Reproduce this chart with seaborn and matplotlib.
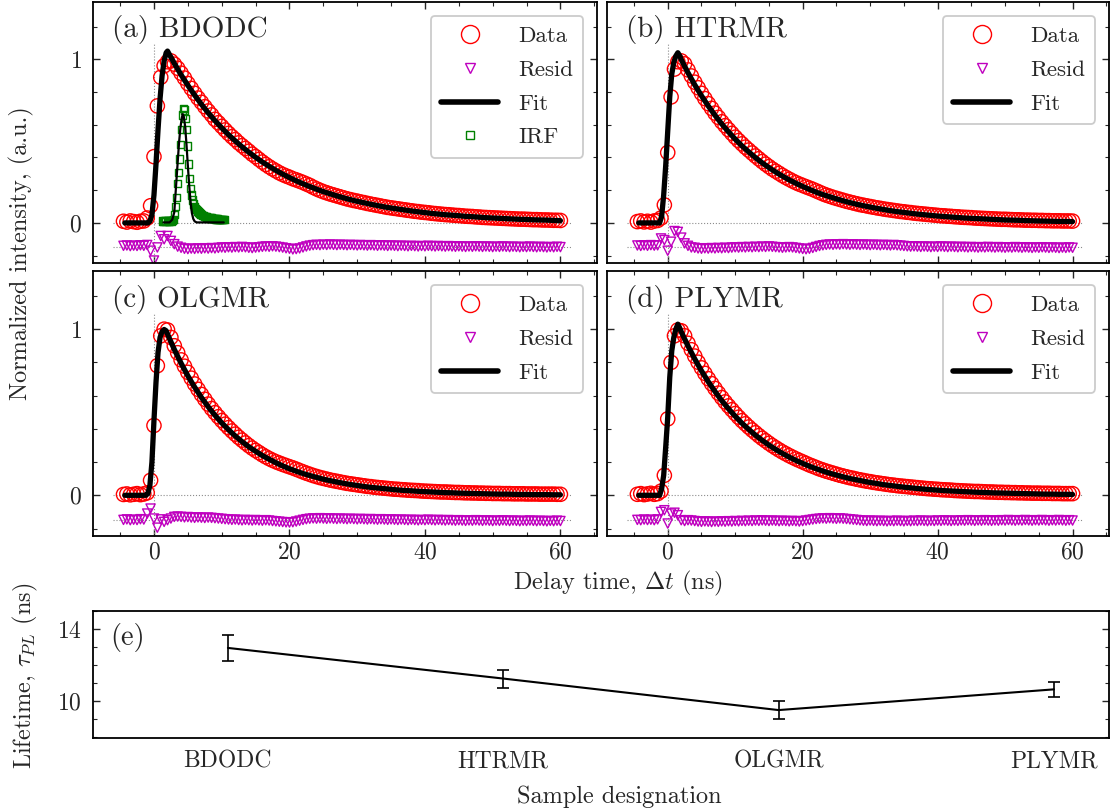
import numpy as np
import matplotlib
matplotlib.use("Agg")
import matplotlib.pyplot as plt
import seaborn as sns
from matplotlib.lines import Line2D
from matplotlib.ticker import MultipleLocator, FixedLocator

# ---------------- data ----------------
# sampling grid of the decay traces (ns)
t_data = np.arange(-4.5, 60.01, 0.5)

data_a = [0.010, 0.005, 0.012, 0.008, 0.004, 0.010, 0.012, 0.030, 0.105, 0.405, 0.715, 0.890, 0.960, 0.985, 0.990,
          0.970, 0.945, 0.915, 0.885, 0.852, 0.822, 0.792, 0.763, 0.737, 0.710, 0.684, 0.660, 0.633, 0.612, 0.590,
          0.568, 0.547, 0.527, 0.509, 0.489, 0.472, 0.455, 0.438, 0.420, 0.405, 0.388, 0.372, 0.357, 0.343, 0.330,
          0.318, 0.306, 0.296, 0.287, 0.279, 0.270, 0.263, 0.255, 0.247, 0.238, 0.229, 0.218, 0.208, 0.199, 0.191,
          0.184, 0.177, 0.171, 0.165, 0.159, 0.153, 0.147, 0.142, 0.137, 0.133, 0.128, 0.124, 0.119, 0.115, 0.111,
          0.107, 0.103, 0.099, 0.095, 0.092, 0.089, 0.086, 0.083, 0.080, 0.077, 0.074, 0.071, 0.069, 0.066, 0.064,
          0.062, 0.059, 0.057, 0.055, 0.053, 0.051, 0.050, 0.048, 0.046, 0.045, 0.043, 0.041, 0.040, 0.039, 0.037,
          0.036, 0.034, 0.033, 0.032, 0.031, 0.030, 0.029, 0.028, 0.027, 0.026, 0.025, 0.024, 0.023, 0.023, 0.022,
          0.021, 0.020, 0.020, 0.019, 0.018, 0.018, 0.017, 0.016, 0.016, 0.015]
data_b = [0.008, 0.012, 0.006, 0.010, 0.005, 0.012, 0.015, 0.030, 0.110, 0.430, 0.770, 0.940, 0.985, 0.990,
          0.972, 0.935, 0.898, 0.860, 0.826, 0.792, 0.760, 0.729, 0.700, 0.671, 0.645, 0.618, 0.594, 0.570, 0.547,
          0.524, 0.503, 0.483, 0.463, 0.445, 0.427, 0.409, 0.392, 0.375, 0.359, 0.344, 0.329, 0.316, 0.303, 0.290,
          0.278, 0.267, 0.256, 0.246, 0.237, 0.229, 0.221, 0.213, 0.205, 0.196, 0.187, 0.178, 0.170, 0.163, 0.156,
          0.150, 0.144, 0.138, 0.132, 0.127, 0.122, 0.117, 0.112, 0.108, 0.104, 0.100, 0.096, 0.092, 0.089, 0.085,
          0.082, 0.079, 0.076, 0.073, 0.070, 0.068, 0.065, 0.063, 0.060, 0.058, 0.056, 0.054, 0.052, 0.050, 0.048,
          0.046, 0.044, 0.043, 0.041, 0.040, 0.038, 0.037, 0.035, 0.034, 0.033, 0.032, 0.030, 0.029, 0.028, 0.027,
          0.026, 0.025, 0.024, 0.023, 0.022, 0.022, 0.021, 0.020, 0.019, 0.019, 0.018, 0.017, 0.017, 0.016, 0.016,
          0.015, 0.015, 0.014, 0.014, 0.013, 0.013, 0.013, 0.012, 0.012, 0.012, 0.011]
data_c = [0.005, 0.008, 0.003, 0.006, 0.010, 0.004, 0.008, 0.015, 0.090, 0.420, 0.780, 0.960, 1.000, 0.995,
          0.950, 0.900, 0.858, 0.815, 0.777, 0.740, 0.705, 0.670, 0.638, 0.607, 0.578, 0.549, 0.522, 0.497, 0.473,
          0.450, 0.428, 0.407, 0.387, 0.368, 0.349, 0.332, 0.315, 0.299, 0.284, 0.270, 0.257, 0.244, 0.232, 0.221,
          0.211, 0.202, 0.194, 0.186, 0.179, 0.172, 0.165, 0.157, 0.149, 0.141, 0.133, 0.126, 0.119, 0.113, 0.107,
          0.102, 0.097, 0.092, 0.088, 0.084, 0.080, 0.076, 0.072, 0.069, 0.066, 0.063, 0.060, 0.057, 0.054, 0.052,
          0.049, 0.047, 0.045, 0.043, 0.041, 0.039, 0.037, 0.036, 0.034, 0.033, 0.031, 0.030, 0.029, 0.028, 0.026,
          0.025, 0.024, 0.023, 0.022, 0.021, 0.020, 0.020, 0.019, 0.018, 0.017, 0.017, 0.016, 0.015, 0.015, 0.014,
          0.014, 0.013, 0.013, 0.012, 0.012, 0.011, 0.011, 0.011, 0.010, 0.010, 0.010, 0.009, 0.009, 0.009, 0.009,
          0.008, 0.008, 0.008, 0.008, 0.007, 0.007, 0.007, 0.007, 0.007, 0.006, 0.006]
data_d = [0.006, 0.010, 0.004, 0.008, 0.012, 0.006, 0.010, 0.025, 0.120, 0.460, 0.800, 0.960, 0.995, 0.990,
          0.960, 0.915, 0.876, 0.838, 0.801, 0.767, 0.734, 0.702, 0.672, 0.643, 0.615, 0.588, 0.562, 0.538, 0.515,
          0.492, 0.470, 0.449, 0.430, 0.411, 0.393, 0.376, 0.359, 0.343, 0.328, 0.313, 0.299, 0.286, 0.273, 0.261,
          0.250, 0.239, 0.229, 0.219, 0.210, 0.201, 0.192, 0.183, 0.175, 0.167, 0.159, 0.152, 0.145, 0.139, 0.133,
          0.127, 0.121, 0.116, 0.111, 0.106, 0.102, 0.097, 0.093, 0.089, 0.085, 0.082, 0.078, 0.075, 0.072, 0.069,
          0.066, 0.063, 0.061, 0.058, 0.056, 0.054, 0.052, 0.050, 0.048, 0.046, 0.044, 0.042, 0.040, 0.039, 0.037,
          0.036, 0.034, 0.033, 0.032, 0.031, 0.029, 0.028, 0.027, 0.026, 0.025, 0.024, 0.023, 0.023, 0.022, 0.021,
          0.020, 0.020, 0.019, 0.018, 0.018, 0.017, 0.017, 0.016, 0.016, 0.015, 0.015, 0.014, 0.014, 0.013, 0.013,
          0.013, 0.012, 0.012, 0.012, 0.011, 0.011, 0.011, 0.010, 0.010, 0.010, 0.010]

resid_a = [-0.140, -0.138, -0.142, -0.139, -0.141, -0.137, -0.140, -0.135, -0.170, -0.230, -0.150, -0.080, -0.100,
           -0.080, -0.110, -0.130, -0.145,
           -0.152, -0.158, -0.160, -0.157, -0.159, -0.156, -0.158, -0.155, -0.157, -0.154, -0.156, -0.153, -0.150,
           -0.152, -0.149, -0.151, -0.148, -0.150, -0.147, -0.149, -0.152, -0.154, -0.151, -0.149, -0.146, -0.144,
           -0.146, -0.143, -0.145, -0.148, -0.151, -0.155, -0.158, -0.162, -0.160, -0.156, -0.150, -0.144, -0.139,
           -0.136, -0.134, -0.136, -0.133, -0.135, -0.132, -0.134, -0.136, -0.133, -0.135, -0.137, -0.134, -0.136,
           -0.138, -0.135, -0.137, -0.139, -0.136, -0.138, -0.140, -0.137, -0.139, -0.141, -0.138, -0.140, -0.142,
           -0.139, -0.141, -0.143, -0.140, -0.142, -0.144, -0.141, -0.143, -0.140, -0.142, -0.144, -0.141, -0.143,
           -0.145, -0.142, -0.144, -0.146, -0.143, -0.145, -0.147, -0.144, -0.146, -0.143, -0.145, -0.147, -0.144,
           -0.146, -0.148, -0.145, -0.147, -0.144, -0.146, -0.148, -0.145, -0.147, -0.149, -0.146, -0.148, -0.145,
           -0.147, -0.149, -0.146, -0.148, -0.150, -0.147, -0.149, -0.146, -0.148]
resid_b = [-0.138, -0.141, -0.137, -0.140, -0.136, -0.139, -0.137, -0.095, -0.105, -0.170, -0.115, -0.050, -0.055,
           -0.090, -0.125, -0.140, -0.150,
           -0.152, -0.156, -0.158, -0.155, -0.157, -0.154, -0.156, -0.153, -0.155, -0.152, -0.154, -0.151, -0.149,
           -0.151, -0.148, -0.150, -0.147, -0.149, -0.146, -0.148, -0.145, -0.147, -0.144, -0.146, -0.148, -0.150,
           -0.152, -0.150, -0.148, -0.150, -0.153, -0.156, -0.159, -0.161, -0.158, -0.153, -0.147, -0.141, -0.137,
           -0.134, -0.132, -0.134, -0.131, -0.133, -0.130, -0.132, -0.134, -0.131, -0.133, -0.135, -0.132, -0.134,
           -0.136, -0.133, -0.135, -0.137, -0.134, -0.136, -0.138, -0.135, -0.137, -0.139, -0.141, -0.143, -0.145,
           -0.143, -0.145, -0.147, -0.144, -0.146, -0.148, -0.145, -0.147, -0.144, -0.146, -0.148, -0.145, -0.147,
           -0.149, -0.146, -0.148, -0.150, -0.147, -0.149, -0.151, -0.148, -0.150, -0.147, -0.149, -0.151, -0.148,
           -0.150, -0.152, -0.149, -0.151, -0.148, -0.150, -0.152, -0.149, -0.151, -0.153, -0.150, -0.152, -0.149,
           -0.151, -0.153, -0.150, -0.152, -0.154, -0.151, -0.153, -0.150, -0.152]
resid_c = [-0.148, -0.145, -0.150, -0.147, -0.149, -0.144, -0.146, -0.110, -0.080, -0.140, -0.195, -0.145, -0.160,
           -0.150, -0.140, -0.130, -0.128,
           -0.130, -0.133, -0.131, -0.134, -0.136, -0.133, -0.135, -0.137, -0.134, -0.136, -0.138, -0.140, -0.142,
           -0.144, -0.146, -0.148, -0.146, -0.149, -0.151, -0.148, -0.150, -0.152, -0.149, -0.151, -0.153, -0.150,
           -0.152, -0.155, -0.157, -0.159, -0.161, -0.163, -0.164, -0.162, -0.158, -0.153, -0.148, -0.144, -0.141,
           -0.139, -0.141, -0.138, -0.140, -0.142, -0.139, -0.141, -0.143, -0.140, -0.142, -0.144, -0.141, -0.143,
           -0.145, -0.142, -0.144, -0.146, -0.143, -0.145, -0.147, -0.144, -0.146, -0.148, -0.145, -0.147, -0.149,
           -0.146, -0.148, -0.150, -0.147, -0.149, -0.151, -0.148, -0.150, -0.147, -0.149, -0.151, -0.148, -0.150,
           -0.152, -0.149, -0.151, -0.153, -0.150, -0.152, -0.154, -0.151, -0.153, -0.150, -0.152, -0.154, -0.151,
           -0.153, -0.155, -0.152, -0.154, -0.151, -0.153, -0.155, -0.152, -0.154, -0.156, -0.153, -0.155, -0.152,
           -0.154, -0.156, -0.153, -0.155, -0.157, -0.154, -0.156, -0.153, -0.155]
resid_d = [-0.148, -0.150, -0.146, -0.149, -0.147, -0.150, -0.145, -0.100, -0.090, -0.170, -0.110, -0.105, -0.120,
           -0.150, -0.155, -0.150, -0.152,
           -0.155, -0.158, -0.160, -0.157, -0.159, -0.161, -0.158, -0.160, -0.157, -0.159, -0.156, -0.158, -0.155,
           -0.157, -0.154, -0.156, -0.153, -0.155, -0.152, -0.154, -0.151, -0.153, -0.155, -0.152, -0.154, -0.156,
           -0.153, -0.155, -0.157, -0.154, -0.156, -0.158, -0.155, -0.152, -0.149, -0.146, -0.143, -0.141, -0.139,
           -0.141, -0.138, -0.140, -0.142, -0.139, -0.141, -0.143, -0.145, -0.147, -0.149, -0.151, -0.153, -0.155,
           -0.152, -0.154, -0.156, -0.153, -0.155, -0.157, -0.154, -0.156, -0.153, -0.155, -0.157, -0.154, -0.156,
           -0.153, -0.155, -0.152, -0.154, -0.156, -0.153, -0.155, -0.152, -0.154, -0.151, -0.153, -0.155, -0.152,
           -0.154, -0.151, -0.153, -0.150, -0.152, -0.154, -0.151, -0.153, -0.150, -0.152, -0.154, -0.151, -0.153,
           -0.150, -0.152, -0.149, -0.151, -0.153, -0.150, -0.152, -0.149, -0.151, -0.153, -0.150, -0.152, -0.149,
           -0.151, -0.153, -0.150, -0.152, -0.149, -0.151, -0.153, -0.150, -0.152]

# fit curves
t_fit = [-4.3, -1.2, -0.9, -0.6, -0.3, 0.0, 0.3, 0.6, 0.9, 1.2, 1.5, 1.8, 2.0,
         3, 4, 5, 6, 7, 8, 9, 10, 11, 12, 13, 14, 15, 16, 17, 18, 19, 20, 21, 22, 23, 24, 25, 26, 27, 28, 29, 30,
         31, 32, 33, 34, 35, 36, 37, 38, 39, 40, 41, 42, 43, 44, 45, 46, 47, 48, 49, 50, 51, 52, 53, 54, 55, 56,
         57, 58, 59, 60]
fit_a = [0.0, 0.0, 0.0, 0.01, 0.05, 0.17, 0.36, 0.57, 0.76, 0.90, 0.99, 1.04, 1.05,
         0.975, 0.905, 0.841, 0.781, 0.725, 0.673, 0.625, 0.581, 0.539, 0.501, 0.465, 0.432, 0.401, 0.372, 0.346,
         0.321, 0.298, 0.277, 0.257, 0.239, 0.222, 0.206, 0.191, 0.178, 0.165, 0.153, 0.142, 0.132, 0.123, 0.114,
         0.106, 0.098, 0.091, 0.085, 0.079, 0.073, 0.068, 0.063, 0.058, 0.054, 0.050, 0.047, 0.044, 0.040, 0.038,
         0.035, 0.032, 0.030, 0.028, 0.026, 0.024, 0.022, 0.021, 0.019, 0.018, 0.017, 0.015, 0.014]
fit_b = [0.0, 0.0, 0.04, 0.17, 0.35, 0.56, 0.77, 0.91, 0.98, 1.02, 1.04, 1.02, 0.998,
         0.918, 0.844, 0.777, 0.715, 0.658, 0.605, 0.557, 0.512, 0.471, 0.434, 0.399, 0.367, 0.338, 0.311, 0.286,
         0.263, 0.242, 0.223, 0.205, 0.188, 0.173, 0.160, 0.147, 0.135, 0.124, 0.114, 0.105, 0.097, 0.089, 0.082,
         0.075, 0.069, 0.064, 0.059, 0.054, 0.050, 0.046, 0.042, 0.039, 0.036, 0.033, 0.030, 0.028, 0.026, 0.024,
         0.022, 0.020, 0.018, 0.017, 0.016, 0.014, 0.013, 0.012, 0.011, 0.010, 0.009, 0.009, 0.008]
fit_c = [0.0, 0.0, 0.01, 0.06, 0.20, 0.45, 0.68, 0.86, 0.95, 0.985, 0.998, 0.99, 0.970,
         0.878, 0.795, 0.719, 0.651, 0.589, 0.533, 0.482, 0.436, 0.395, 0.357, 0.323, 0.292, 0.265, 0.239, 0.217,
         0.196, 0.177, 0.160, 0.145, 0.131, 0.119, 0.108, 0.097, 0.088, 0.080, 0.072, 0.065, 0.059, 0.053, 0.048,
         0.044, 0.040, 0.036, 0.032, 0.029, 0.027, 0.024, 0.022, 0.020, 0.018, 0.016, 0.015, 0.013, 0.012, 0.011,
         0.010, 0.009, 0.008, 0.007, 0.007, 0.006, 0.005, 0.005, 0.004, 0.004, 0.004, 0.003, 0.003]
fit_d = [0.0, 0.0, 0.04, 0.12, 0.29, 0.47, 0.71, 0.87, 0.95, 1.00, 1.03, 1.005, 0.984,
         0.899, 0.821, 0.749, 0.684, 0.625, 0.570, 0.521, 0.476, 0.434, 0.397, 0.362, 0.331, 0.302, 0.276, 0.252,
         0.230, 0.210, 0.192, 0.175, 0.160, 0.146, 0.133, 0.122, 0.111, 0.101, 0.093, 0.085, 0.077, 0.071, 0.064,
         0.059, 0.054, 0.049, 0.045, 0.041, 0.037, 0.034, 0.031, 0.028, 0.026, 0.024, 0.022, 0.020, 0.018, 0.017,
         0.015, 0.014, 0.013, 0.012, 0.011, 0.010, 0.009, 0.008, 0.007, 0.007, 0.006, 0.006, 0.005]

# instrument response (panel a)
t_irf = np.arange(1.35, 10.36, 0.15)
irf = [0.012, 0.010, 0.014, 0.011, 0.013, 0.012, 0.010, 0.013, 0.012, 0.014, 0.020,
       0.050, 0.100, 0.155, 0.240, 0.310, 0.390, 0.480, 0.570, 0.660, 0.700,
       0.690, 0.640, 0.570, 0.470, 0.360, 0.270, 0.210, 0.170, 0.140, 0.115,
       0.100, 0.090, 0.080, 0.072, 0.066, 0.060, 0.055, 0.050, 0.047, 0.044,
       0.041, 0.038, 0.036, 0.034, 0.032, 0.030, 0.029, 0.028, 0.027, 0.026,
       0.025, 0.024, 0.023, 0.022, 0.022, 0.021, 0.021, 0.020, 0.020, 0.020]
t_irf_fit = [1.4, 2.3, 2.7, 3.0, 3.3, 3.5, 3.7, 3.9, 4.1, 4.25, 4.4, 4.6, 4.8, 5.0, 5.2, 5.4, 5.6, 5.8, 6.0,
             6.3, 7.0, 10.3]
irf_fit = [0.003, 0.003, 0.02, 0.065, 0.25, 0.37, 0.49, 0.58, 0.64, 0.665, 0.65, 0.59, 0.48, 0.35, 0.23, 0.13,
           0.06, 0.025, 0.01, 0.003, 0.003, 0.003]

# lifetimes (panel e)
samples = ["BDODC", "HTRMR", "OLGMR", "PLYMR"]
lifetime = [12.95, 11.25, 9.5, 10.65]
lifetime_err = [0.72, 0.50, 0.52, 0.42]

# ---------------- style ----------------
sns.set_theme(style="ticks")
plt.rcParams.update({
    "font.family": "serif",
    "font.serif": ["cmr10", "DejaVu Serif"],
    "mathtext.fontset": "cm",
    "axes.formatter.use_mathtext": True,
    "axes.unicode_minus": False,
    "xtick.direction": "in", "ytick.direction": "in",
    "xtick.top": True, "ytick.right": True,
    "xtick.major.size": 5, "ytick.major.size": 5,
    "xtick.minor.size": 3, "ytick.minor.size": 3,
    "xtick.major.width": 1.0, "ytick.major.width": 1.0,
    "xtick.minor.width": 0.8, "ytick.minor.width": 0.8,
    "xtick.labelsize": 17, "ytick.labelsize": 17,
    "axes.linewidth": 1.3, "axes.edgecolor": "black",
})

W, H = 1110, 809
fig = plt.figure(figsize=(W / 100, H / 100), dpi=100)


def box(l, t, r, b):
    return [l / W, 1 - b / H, (r - l) / W, (b - t) / H]


ax_a = fig.add_axes(box(93, 2, 597, 263))
ax_b = fig.add_axes(box(607, 2, 1109, 263))
ax_c = fig.add_axes(box(93, 271, 597, 536))
ax_d = fig.add_axes(box(607, 271, 1109, 536))
ax_e = fig.add_axes(box(93, 611, 1109, 738))

RED, MAG, GRN = "#ff0000", "#bf00bf", "#008000"


def decay_panel(ax, data, resid, fit, label, show_x, show_y, irf_on=False):
    n = min(len(t_data), len(data))
    m = min(len(t_data), len(resid))
    k = min(len(t_fit), len(fit))
    ax.hlines([0.0, -0.15], -6, 61.5, colors="0.55", linestyles=":", linewidth=0.8, zorder=1)
    ax.vlines(0.0, -0.3, 1.1, colors="0.55", linestyles=":", linewidth=0.8, zorder=1)
    sns.scatterplot(x=t_data[:n], y=data[:n], ax=ax, marker="o", s=105, facecolors="none",
                    edgecolor=RED, linewidth=1.0, zorder=2)
    sns.scatterplot(x=t_data[:m], y=resid[:m], ax=ax, marker="v", s=44, facecolors="none",
                    edgecolor=MAG, linewidth=1.0, zorder=2)
    sns.lineplot(x=t_fit[:k], y=fit[:k], ax=ax, color="black", linewidth=3.8, zorder=3, sort=False)
    handles = [
        Line2D([], [], marker="o", ls="", mfc="none", mec=RED, mew=1.0, ms=13),
        Line2D([], [], marker="v", ls="", mfc="none", mec=MAG, mew=1.0, ms=6.5),
        Line2D([], [], color="black", lw=4),
    ]
    labels = ["Data", "Resid", "Fit"]
    if irf_on:
        ni = min(len(t_irf), len(irf))
        sns.scatterplot(x=t_irf[:ni], y=irf[:ni], ax=ax, marker="s", s=28, facecolors="none",
                        edgecolor=GRN, linewidth=1.0, zorder=3)
        sns.lineplot(x=t_irf_fit, y=irf_fit, ax=ax, color="black", linewidth=1.6, zorder=4, sort=False)
        handles.append(Line2D([], [], marker="s", ls="", mfc="none", mec=GRN, mew=1.0, ms=5.5))
        labels.append("IRF")
    leg = ax.legend(handles, labels, loc="upper right", fontsize=16.5, frameon=True, fancybox=True,
                    framealpha=1.0, edgecolor="0.8", handlelength=2.5, handletextpad=0.85,
                    labelspacing=0.6, borderpad=0.45, borderaxespad=0.6)
    leg.get_frame().set_linewidth(1.3)
    ax.set_xlim(-9.0, 65.4)
    ax.set_ylim(-0.245, 1.35)
    ax.xaxis.set_major_locator(FixedLocator([0, 20, 40, 60]))
    ax.xaxis.set_minor_locator(MultipleLocator(5))
    ax.yaxis.set_major_locator(FixedLocator([0, 1]))
    ax.yaxis.set_minor_locator(MultipleLocator(0.2))
    ax.tick_params(which="both", top=True, right=True)
    ax.tick_params(axis="x", labelbottom=show_x, pad=4)
    ax.tick_params(axis="y", labelleft=show_y, pad=8)
    ax.set_xlabel("")
    ax.set_ylabel("")
    ax.text(0.038, 0.866, label, transform=ax.transAxes, fontsize=21, va="baseline", ha="left")


decay_panel(ax_a, data_a, resid_a, fit_a, "(a) BDODC", False, True, irf_on=True)
decay_panel(ax_b, data_b, resid_b, fit_b, "(b) HTRMR", False, False)
decay_panel(ax_c, data_c, resid_c, fit_c, "(c) OLGMR", True, True)
decay_panel(ax_d, data_d, resid_d, fit_d, "(d) PLYMR", True, False)

# panel (e)
xpos = list(range(len(samples)))
sns.lineplot(x=xpos, y=lifetime, ax=ax_e, color="black", linewidth=1.5, sort=False)
ax_e.errorbar(xpos, lifetime, yerr=lifetime_err, fmt="none", ecolor="black", elinewidth=1.2,
              capsize=4, capthick=1.2)
ax_e.set_xlim(-0.49, 3.2)
ax_e.set_ylim(7.95, 15.0)
ax_e.set_xticks(xpos)
ax_e.set_xticklabels(samples, fontsize=17)
ax_e.yaxis.set_major_locator(FixedLocator([10, 14]))
ax_e.yaxis.set_minor_locator(MultipleLocator(1))
ax_e.tick_params(axis="x", length=0, top=False, pad=9)
ax_e.tick_params(axis="y", which="both", right=True, pad=8)
ax_e.set_xlabel("")
ax_e.set_ylabel("")
ax_e.text(0.0167, 0.73, "(e)", transform=ax_e.transAxes, fontsize=20.5, va="baseline", ha="left")

# shared labels
fig.text(21 / W, 1 - 253 / H, "Normalized intensity, (a.u.)", rotation=90, fontsize=17.5,
         ha="center", va="center")
fig.text(618 / W, 1 - 583 / H, r"Delay time, $\Delta t$ (ns)", fontsize=17.5, ha="center", va="center")
fig.text(25 / W, 1 - 676 / H, r"Lifetime, $\tau_{PL}$ (ns)", rotation=90, fontsize=17.5,
         ha="center", va="center")
fig.text(619 / W, 1 - 797 / H, "Sample designation", fontsize=17.5, ha="center", va="center")

fig.savefig("out.png", dpi=100)
